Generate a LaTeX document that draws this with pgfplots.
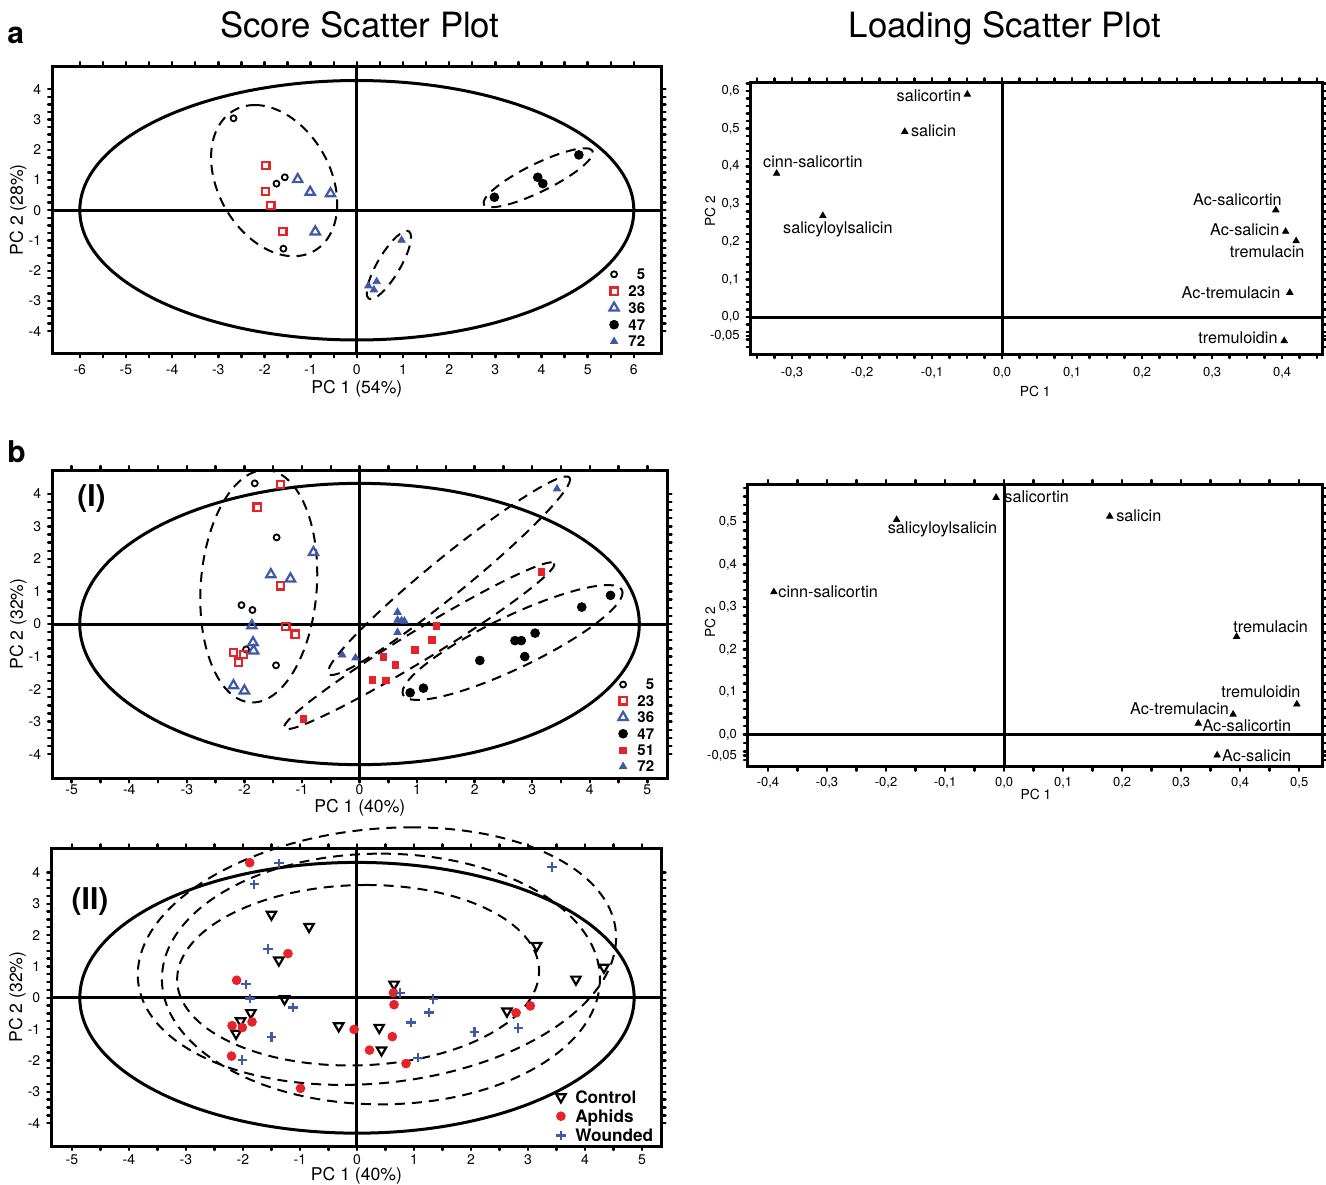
\documentclass[border=0pt]{standalone}
\usepackage{fontspec}
\setmainfont{TeX Gyre Heros}
\setsansfont{TeX Gyre Heros}
\usepackage{pgfplots}
\pgfplotsset{compat=1.18}
\definecolor{myred}{RGB}{230,35,40}
\definecolor{myblue}{RGB}{62,88,170}

% ellipse from centre and two conjugate semi-axis vectors, all in data units
\newcommand{\ellipseD}[6]{\pgfplotsextra{\begin{pgfscope}\pgfsetlinewidth{1pt}\pgfsetdash{{5pt}{3.5pt}}{0pt}%
  \pgfpathellipse{\pgfplotspointaxisxy{#1}{#2}}{\pgfpointdiff{\pgfplotspointaxisxy{0}{0}}{\pgfplotspointaxisxy{#3}{#4}}}{\pgfpointdiff{\pgfplotspointaxisxy{0}{0}}{\pgfplotspointaxisxy{#5}{#6}}}%
  \pgfusepath{stroke}\end{pgfscope}}}
\newcommand{\ellipseS}[6]{\pgfplotsextra{\begin{pgfscope}\pgfsetlinewidth{1.5pt}%
  \pgfpathellipse{\pgfplotspointaxisxy{#1}{#2}}{\pgfpointdiff{\pgfplotspointaxisxy{0}{0}}{\pgfplotspointaxisxy{#3}{#4}}}{\pgfpointdiff{\pgfplotspointaxisxy{0}{0}}{\pgfplotspointaxisxy{#5}{#6}}}%
  \pgfusepath{stroke}\end{pgfscope}}}

\pgfplotsset{
  myax/.style={scale only axis, anchor=north west, clip=false,
    axis line style={line width=1.5pt},
    tick align=outside, major tick length=2pt, minor tick length=2pt,
    tick style={black, line width=1.2pt, line cap=round},
    tick label style={font=\fontsize{7}{8}\selectfont},
    label style={font=\fontsize{8.8}{10}\selectfont},
    xlabel style={anchor=center}, ylabel style={anchor=center},
    legend cell align=right,
  },
  lgm/.style={legend image code/.code={\path (-0.15cm,0cm) (0.21cm,0cm); \draw[##1] plot coordinates {(0cm,0cm)};}},
  s5/.style={only marks, mark=o, mark size=1.5pt, color=black, mark options={line width=0.9pt}, lgm},
  s23/.style={only marks, mark=square, mark size=1.8pt, color=myred, mark options={line width=1.1pt, fill=white}, lgm},
  s36/.style={only marks, mark=triangle, mark size=2.7pt, color=myblue, mark options={line width=1.1pt}, lgm},
  s47/.style={only marks, mark=*, mark size=2.2pt, color=black, lgm},
  s51/.style={only marks, mark=square*, mark size=1.6pt, color=myred, lgm},
  s72/.style={only marks, mark=triangle*, mark size=2.1pt, color=myblue, lgm},
  sCon/.style={only marks, mark=triangle, mark size=2.7pt, color=black, mark options={rotate=180, line width=1.1pt}, lgm},
  sAph/.style={only marks, mark=*, mark size=2.2pt, color=myred, lgm},
  sWou/.style={only marks, mark=+, mark size=2.4pt, color=myblue, mark options={line width=1.1pt}, lgm},
  sLoad/.style={only marks, mark=triangle*, mark size=1.8pt, color=black},
  scoreticksA/.style={xtick={-6,...,6}, xticklabels={-6,-5,-4,-3,-2,-1,0,1,2,3,4,5,6},
    ytick={-4,...,4}, yticklabels={-4,-3,-2,-1,0,1,2,3,4}, minor x tick num=1, minor y tick num=3},
  scoreticksB/.style={xtick={-5,...,5}, xticklabels={-5,-4,-3,-2,-1,0,1,2,3,4,5},
    ytick={-4,...,4}, yticklabels={-4,-3,-2,-1,0,1,2,3,4}, minor x tick num=1, minor y tick num=3},
}
\newcommand{\labfont}{\fontsize{8.1}{9}\selectfont}
\tikzset{zl/.style={line width=1.5pt}}

\begin{document}
\begin{tikzpicture}
\path[use as bounding box] (0,0) rectangle (663pt,-592pt);

% titles and panel letters
\node[anchor=base, inner sep=0, font=\fontsize{17.4}{20}\selectfont] at (180pt,-18.5pt) {Score Scatter Plot};
\node[anchor=base, inner sep=0, font=\fontsize{17.4}{20}\selectfont] at (502.5pt,-18.5pt) {Loading Scatter Plot};
\node[anchor=base west, inner sep=0, font=\bfseries\fontsize{15}{18}\selectfont] at (3.5pt,-21.7pt) {a};
\node[anchor=base west, inner sep=0, font=\bfseries\fontsize{15}{18}\selectfont] at (3.5pt,-231pt) {b};

%---------------- a: score ----------------
\begin{axis}[myax, scoreticksA, at={(26.05pt,-33pt)}, width=304.7pt, height=143.65pt,
  xmin=-6.60, xmax=6.60, ymin=-4.73, ymax=4.77,
  xlabel={PC 1 (54\%)}, ylabel={PC 2 (28\%)},
  xlabel style={at={(axis description cs:0.5,-0.1253)}},
  ylabel style={at={(axis description cs:-0.0558,0.5)}},
  legend style={at={(axis description cs:1,0)}, anchor=south east, xshift=-7pt, yshift=2pt,
    draw=none, fill=none, inner sep=0pt, row sep=1pt,
    font=\bfseries\fontsize{7.5}{8}\selectfont, nodes={inner sep=1pt, text height=5.4pt, text depth=0pt}},
]
\draw[zl] (axis cs:-6.6,0) -- (axis cs:6.6,0);
\draw[zl] (axis cs:0,-4.73) -- (axis cs:0,4.77);
\ellipseS{0}{0}{0}{4.29}{6}{0}
\ellipseD{-1.79}{0.98}{-0.42}{2.50}{1.3}{0}
\ellipseD{3.93}{1.075}{1.01}{0.975}{0.62}{0}
\ellipseD{0.695}{-1.81}{0.39}{1.13}{0.28}{0}
\addplot[s5] coordinates {(-2.67,3.04) (-1.74,0.88) (-1.56,1.09) (-1.59,-1.27)};
\addplot[s23] coordinates {(-1.97,1.48) (-1.98,0.63) (-1.86,0.15) (-1.60,-0.71)};
\addplot[s36] coordinates {(-1.28,1.02) (-1.01,0.60) (-0.57,0.55) (-0.90,-0.71)};
\addplot[s47] coordinates {(2.98,0.43) (3.92,1.09) (4.03,0.88) (4.81,1.83)};
\addplot[s72] coordinates {(0.97,-0.99) (0.25,-2.50) (0.37,-2.63) (0.43,-2.36)};
\legend{5,23,36,47,72}
\end{axis}

%---------------- a: loading ----------------
\begin{axis}[myax, at={(375.35pt,-41.15pt)}, width=285.65pt, height=135.85pt,
  xmin=-0.359, xmax=0.457, ymin=-0.098, ymax=0.623,
  xtick={-0.3,-0.2,-0.1,0,0.1,0.2,0.3,0.4},
  xticklabels={{-0,3},{-0,2},{-0,1},{0,0},{0,1},{0,2},{0,3},{0,4}},
  ytick={-0.05,0,0.1,0.2,0.3,0.4,0.5,0.6},
  yticklabels={{-0,05},{0,0},{0,1},{0,2},{0,3},{0,4},{0,5},{0,6}},
  minor xtick={-0.35,-0.325,...,0.45},
  minor ytick={-0.08,-0.06,...,0.62},
  tick label style={font=\fontsize{6.5}{7}\selectfont},
  xticklabel style={yshift=-1.3pt},
  label style={font=\fontsize{6.9}{8}\selectfont},
  xlabel={PC 1}, ylabel={PC 2},
  xlabel style={at={(axis description cs:0.498,-0.139)}},
  ylabel style={at={(axis description cs:-0.071,0.524)}},
]
\draw[zl] (axis cs:-0.359,0) -- (axis cs:0.457,0);
\draw[zl] (axis cs:0,-0.098) -- (axis cs:0,0.623);
\addplot[sLoad] coordinates {(-0.0496,0.591) (-0.139,0.492) (-0.322,0.381) (-0.256,0.269)
  (0.391,0.284) (0.405,0.227) (0.420,0.202) (0.411,0.065) (0.403,-0.063)};
\node[anchor=mid east, inner sep=0, font=\labfont] at (axis cs:-0.058,0.587) {salicortin};
\node[anchor=mid west, inner sep=0, font=\labfont] at (axis cs:-0.1306,0.492) {salicin};
\node[anchor=mid west, inner sep=0, font=\labfont] at (axis cs:-0.3417,0.410) {cinn-salicortin};
\node[anchor=mid west, inner sep=0, font=\labfont] at (axis cs:-0.3132,0.2345) {salicyloylsalicin};
\node[anchor=mid east, inner sep=0, font=\labfont] at (axis cs:0.400,0.309) {Ac-salicortin};
\node[anchor=mid east, inner sep=0, font=\labfont] at (axis cs:0.3965,0.231) {Ac-salicin};
\node[anchor=mid east, inner sep=0, font=\labfont] at (axis cs:0.4324,0.171) {tremulacin};
\node[anchor=mid east, inner sep=0, font=\labfont] at (axis cs:0.398,0.0628) {Ac-tremulacin};
\node[anchor=mid east, inner sep=0, font=\labfont] at (axis cs:0.394,-0.0575) {tremuloidin};
\end{axis}

%---------------- b(I): score ----------------
\begin{axis}[myax, scoreticksB, at={(26.05pt,-235pt)}, width=307.7pt, height=154.15pt,
  xmin=-5.34, xmax=5.35, ymin=-4.74, ymax=4.73,
  xticklabel style={yshift=2.3pt},
  xlabel={PC 1 (40\%)}, ylabel={PC 2 (32\%)},
  xlabel style={at={(axis description cs:0.5,-0.0950)}},
  ylabel style={at={(axis description cs:-0.0553,0.5)}},
  legend style={at={(axis description cs:1,0)}, anchor=south east, xshift=-5.5pt, yshift=2pt,
    draw=none, fill=none, inner sep=0pt, row sep=0.8pt,
    font=\bfseries\fontsize{7.5}{8}\selectfont, nodes={inner sep=1pt, text height=5.4pt, text depth=0pt}},
]
\draw[zl] (axis cs:-5.34,0) -- (axis cs:5.35,0);
\draw[zl] (axis cs:0,-4.74) -- (axis cs:0,4.73);
\ellipseS{0}{0}{0}{4.32}{4.86}{0}
\ellipseD{-1.75}{1.16}{0.11}{3.57}{1.01}{0}
\ellipseD{1.555}{1.483}{2.093}{3.018}{0.205}{-0.444}
\ellipseD{1.036}{-0.670}{2.345}{2.532}{0.136}{-0.393}
\ellipseD{2.658}{-0.568}{1.901}{1.611}{0.196}{-0.720}
\addplot[s5] coordinates {(-1.82,4.32) (-1.44,2.66) (-2.05,0.58) (-1.86,0.43) (-1.97,-0.78) (-1.45,-1.27)};
\addplot[s23] coordinates {(-1.37,4.29) (-1.78,3.59) (-1.37,1.17) (-1.28,-0.07) (-1.12,-0.31) (-2.19,-0.88) (-2.02,-0.93) (-2.10,-1.17)};
\addplot[s36] coordinates {(-0.80,2.20) (-1.54,1.52) (-1.20,1.39) (-1.87,-0.05) (-1.85,-0.57) (-1.84,-0.82) (-2.19,-1.89) (-2.00,-2.05)};
\addplot[s47] coordinates {(4.36,0.88) (3.86,0.52) (3.05,-0.28) (2.70,-0.51) (2.81,-0.51) (2.87,-1.00) (2.09,-1.12) (1.11,-1.97) (0.88,-2.11)};
\addplot[s51] coordinates {(3.16,1.60) (1.34,-0.06) (1.26,-0.49) (0.96,-0.80) (0.41,-1.01) (0.62,-1.26) (0.22,-1.72) (0.46,-1.74) (-0.98,-2.91)};
\addplot[s72] coordinates {(3.43,4.15) (0.66,0.36) (0.66,0.12) (0.73,0.10) (0.78,0.09) (0.66,-0.26) (-0.30,-0.95) (-0.07,-1.04)};
\legend{5,23,36,47,51,72}
\end{axis}
\node[font=\bfseries\fontsize{15}{18}\selectfont, inner sep=0] at (45.75pt,-249.5pt) {(I)};

%---------------- b: loading ----------------
\begin{axis}[myax, at={(373.95pt,-242pt)}, width=287.45pt, height=141.35pt,
  xmin=-0.434, xmax=0.540, ymin=-0.076, ymax=0.589,
  xtick={-0.4,-0.3,-0.2,-0.1,0,0.1,0.2,0.3,0.4,0.5},
  xticklabels={{-0,4},{-0,3},{-0,2},{-0,1},{0,0},{0,1},{0,2},{0,3},{0,4},{0,5}},
  ytick={-0.05,0,0.1,0.2,0.3,0.4,0.5},
  yticklabels={{-0,05},{0,0},{0,1},{0,2},{0,3},{0,4},{0,5}},
  minor xtick={-0.35,-0.25,...,0.45},
  minor ytick={-0.06,-0.04,...,0.58},
  tick label style={font=\fontsize{6.5}{7}\selectfont},
  label style={font=\fontsize{6.9}{8}\selectfont},
  xlabel={PC 1}, ylabel={PC 2},
  xlabel style={at={(axis description cs:0.501,-0.099)}},
  ylabel style={at={(axis description cs:-0.066,0.512)}},
]
\draw[zl] (axis cs:-0.434,0) -- (axis cs:0.540,0);
\draw[zl] (axis cs:0,-0.076) -- (axis cs:0,0.589);
\addplot[sLoad] coordinates {(-0.0135,0.557) (-0.182,0.505) (0.179,0.513) (-0.390,0.335)
  (0.394,0.230) (0.496,0.071) (0.388,0.047) (0.329,0.026) (0.361,-0.049)};
\node[anchor=mid west, inner sep=0, font=\labfont] at (axis cs:0.0,0.557) {salicortin};
\node[anchor=mid west, inner sep=0, font=\labfont] at (axis cs:-0.1976,0.484) {salicyloylsalicin};
\node[anchor=mid west, inner sep=0, font=\labfont] at (axis cs:0.1894,0.512) {salicin};
\node[anchor=mid west, inner sep=0, font=\labfont] at (axis cs:-0.383,0.335) {cinn-salicortin};
\node[anchor=mid west, inner sep=0, font=\labfont] at (axis cs:0.3877,0.253) {tremulacin};
\node[anchor=mid west, inner sep=0, font=\labfont] at (axis cs:0.3674,0.098) {tremuloidin};
\node[anchor=mid east, inner sep=0, font=\labfont] at (axis cs:0.3816,0.0603) {Ac-tremulacin};
\node[anchor=mid west, inner sep=0, font=\labfont] at (axis cs:0.3356,0.018) {Ac-salicortin};
\node[anchor=mid west, inner sep=0, font=\labfont] at (axis cs:0.3687,-0.051) {Ac-salicin};
\end{axis}

%---------------- b(II): score ----------------
\begin{axis}[myax, scoreticksB, at={(25.65pt,-424.15pt)}, width=305.1pt, height=148.85pt,
  xmin=-5.36, xmax=5.34, ymin=-4.73, ymax=4.77,
  xticklabel style={yshift=1.2pt},
  xlabel={PC 1 (40\%)}, ylabel={PC 2 (32\%)},
  xlabel style={at={(axis description cs:0.5,-0.1000)}},
  ylabel style={at={(axis description cs:-0.0557,0.5)}},
  legend cell align=left,
  legend style={at={(axis description cs:1,0)}, anchor=south east, xshift=-3pt, yshift=1pt,
    draw=none, fill=none, inner sep=0pt, row sep=1.4pt,
    font=\bfseries\fontsize{8.6}{9}\selectfont, nodes={inner sep=1pt, text height=6.2pt, text depth=0pt}},
]
\draw[zl] (axis cs:-5.36,0) -- (axis cs:5.34,0);
\draw[zl] (axis cs:0,-4.73) -- (axis cs:0,4.77);
\ellipseS{0}{0}{0}{4.32}{4.86}{0}
\ellipseD{0.35}{1.33}{0.6}{4.11}{4.15}{0}
\ellipseD{0.42}{0.6}{0}{4.0}{3.84}{0}
\ellipseD{0.02}{0.72}{0.15}{2.88}{3.17}{0}
\addplot[sCon] coordinates {(-1.50,2.66) (-0.84,2.27) (-1.37,1.20) (-1.27,-0.04) (-1.86,-0.48) (-2.04,-0.74) (-2.12,-1.14)
  (-0.32,-0.90) (0.39,-0.95) (0.43,-1.67) (0.65,0.43) (2.63,-0.43) (3.15,1.66) (3.84,0.59) (4.33,0.97)};
\addplot[sAph] coordinates {(-1.88,4.31) (-1.21,1.41) (-2.11,0.56) (-2.19,-0.89) (-2.01,-0.95) (-1.84,-0.77) (-2.20,-1.86)
  (-0.99,-2.89) (-0.05,-1.01) (0.64,0.16) (0.65,-0.22) (0.62,-1.24) (0.22,-1.67) (0.86,-2.10) (2.79,-0.48) (3.04,-0.26)};
\addplot[sWou] coordinates {(-1.37,4.29) (-1.80,3.62) (-1.56,1.56) (-1.95,0.43) (-1.88,-0.02) (-1.12,-0.31) (-1.50,-1.26)
  (-2.01,-1.99) (0.75,0.15) (1.34,-0.03) (1.26,-0.47) (0.95,-0.79) (1.07,-1.91) (2.06,-1.10) (2.83,-0.96) (3.42,4.18)};
\legend{Control,Aphids,Wounded}
\end{axis}
\node[font=\bfseries\fontsize{15}{18}\selectfont, inner sep=0] at (45pt,-451pt) {(II)};
\end{tikzpicture}
\end{document}
